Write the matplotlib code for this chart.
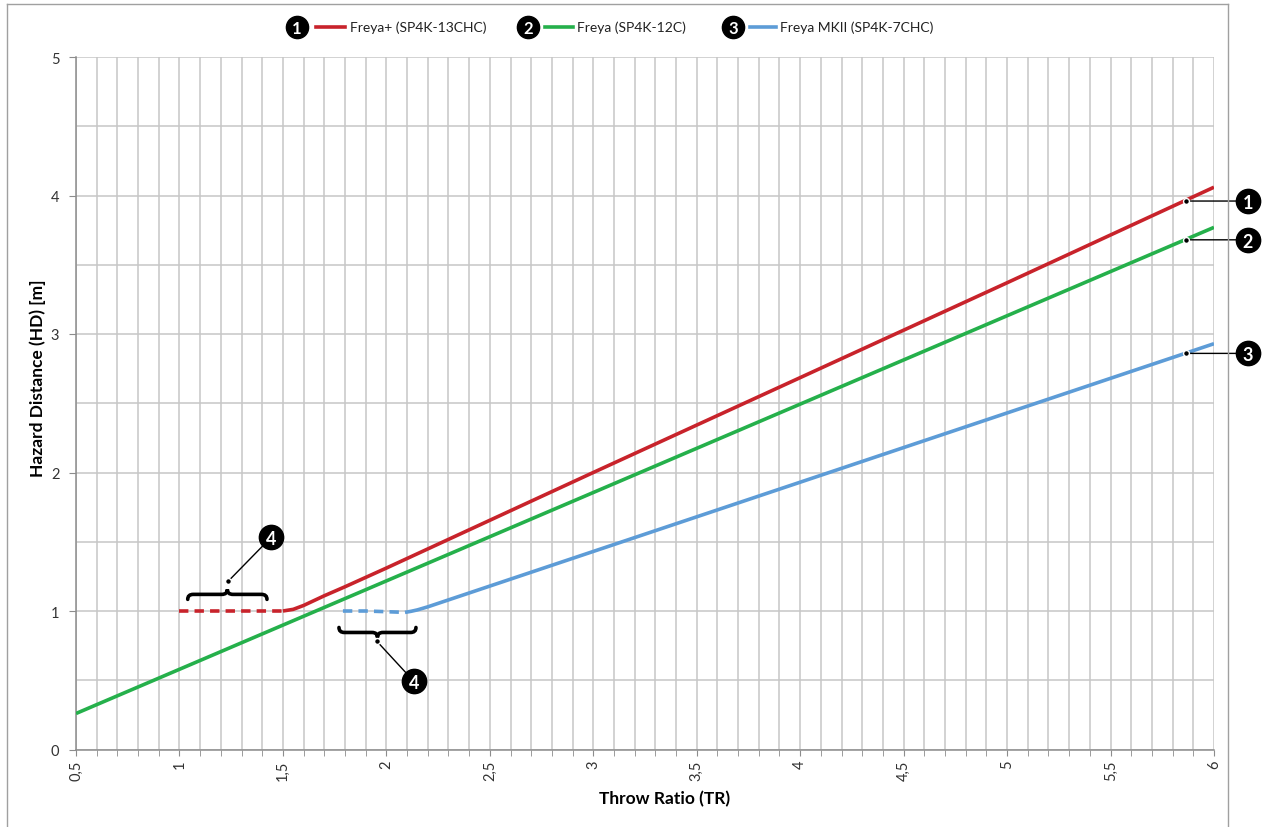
import matplotlib
matplotlib.use('Agg')
import matplotlib.pyplot as plt
import matplotlib.patches as mpatches
import matplotlib.transforms as mtransforms
from matplotlib.lines import Line2D
from matplotlib.path import Path
import numpy as np

plt.rcParams['font.family'] = ['Lato', 'DejaVu Sans']

W, H = 1268, 828

# ── Data ──────────────────────────────────────────────────────────────────────
names  = ['Freya+ (SP4K-13CHC)', 'Freya (SP4K-12C)', 'Freya MKII (SP4K-7CHC)']
colors = ['#C8232B', '#25B04B', '#5D9CD7']

red_dash_x  = [1.0, 1.5]
red_dash_y  = [1.0, 1.0]
red_x = [1.5, 1.55, 1.6, 1.65, 1.7, 1.8, 2.0, 3.0, 4.0, 5.0, 6.0]
red_y = [1.0, 1.012, 1.04, 1.075, 1.11, 1.175, 1.31, 2.0, 2.685, 3.37, 4.06]

green_x = [0.5, 6.0]
green_y = [0.26, 3.77]

blue_dash_x = [1.79, 1.9, 2.0, 2.09]
blue_dash_y = [1.0, 1.0, 0.995, 0.99]
blue_x = [2.09, 2.12, 2.15, 2.2, 2.3, 3.0, 4.0, 5.0, 6.0]
blue_y = [0.99, 0.998, 1.008, 1.03, 1.08, 1.43, 1.93, 2.43, 2.93]

callout_x = 5.865
callout_y = [3.96, 3.68, 2.86]

# braces marking the dashed (flat) parts: x0, x1, end y, bar y, tip y
brace_x0   = [1.04, 1.771]
brace_x1   = [1.423, 2.143]
brace_yend = [1.084, 0.881]
brace_ybar = [1.12, 0.845]
brace_ytip = [1.156, 0.809]
brace_dot_x = [1.235, 1.955]
brace_dot_y = [1.214, 0.78]

x_ticks = [0.5, 1, 1.5, 2, 2.5, 3, 3.5, 4, 4.5, 5, 5.5, 6]
x_tick_labels = ['0,5', '1', '1,5', '2', '2,5', '3', '3,5', '4', '4,5', '5', '5,5', '6']
y_ticks = [0, 1, 2, 3, 4, 5]
y_tick_labels = ['0', '1', '2', '3', '4', '5']

# ── Figure ────────────────────────────────────────────────────────────────────
fig = plt.figure(figsize=(W / 100, H / 100), dpi=100)
ax = fig.add_axes([76 / W, (H - 750.5) / H, (1214 - 76) / W, (750.5 - 58) / H])

LW = 2.6
ax.plot(red_dash_x, red_dash_y, color=colors[0], lw=LW, dashes=(2.6, 1.7), zorder=3)
ax.plot(red_x, red_y, color=colors[0], lw=LW, zorder=3, solid_capstyle='butt')
ax.plot(green_x, green_y, color=colors[1], lw=LW, zorder=3, solid_capstyle='butt')
ax.plot(blue_dash_x, blue_dash_y, color=colors[2], lw=LW, dashes=(2.6, 1.7), zorder=3)
ax.plot(blue_x, blue_y, color=colors[2], lw=LW, zorder=3, solid_capstyle='butt')

ax.set_xlim(0.5, 6)
ax.set_ylim(0, 5)
ax.set_xticks(x_ticks, x_tick_labels, rotation=90)
ax.set_xticks(np.arange(0.5, 6.001, 0.1), minor=True)
ax.set_yticks(y_ticks, y_tick_labels)
ax.set_yticks(np.arange(0.5, 5, 1.0), minor=True)

GRID = '#c6c6c6'
ax.grid(True, which='both', color=GRID, lw=1.1, zorder=0)
ax.set_axisbelow(True)
for s in ['top', 'right']:
    ax.spines[s].set_visible(False)
for s in ['left', 'bottom']:
    ax.spines[s].set_color('#8c8c8c')
    ax.spines[s].set_linewidth(1.1)

ax.tick_params(axis='x', which='both', direction='out', length=4, color='#8c8c8c',
               labelsize=10.5, labelcolor='#333333', pad=3)
ax.tick_params(axis='y', which='major', direction='out', length=5, color='#8c8c8c',
               labelsize=10.5, labelcolor='#333333', pad=7)
ax.tick_params(axis='y', which='minor', length=0)

fig.text(665 / W, 1 - 799 / H, 'Throw Ratio (TR)', ha='center', va='center',
         fontsize=12.5, fontweight='bold')
fig.text(38 / W, 1 - 378 / H, 'Hazard Distance (HD) [m]', ha='center', va='center',
         rotation=90, fontsize=12.5, fontweight='bold')

# ── Numbered call-outs ────────────────────────────────────────────────────────
def callout(xy, offset, label, fs=13, ms=17.5):
    ax.annotate('', xy=xy, xytext=offset, textcoords='offset points',
                annotation_clip=False, zorder=5,
                arrowprops=dict(arrowstyle='-', color='black', lw=1,
                                shrinkA=0, shrinkB=0))
    ax.plot(*xy, 'o', ms=4.2, color='black', mec='white', mew=1.0, zorder=6)
    tr = mtransforms.offset_copy(ax.transData, fig=fig, x=offset[0], y=offset[1],
                                 units='points')
    ax.plot(*xy, 'o', ms=ms, color='black', transform=tr, clip_on=False, zorder=7)
    ax.text(*xy, label, transform=tr, ha='center', va='center_baseline',
            color='white', fontsize=fs, fontweight='bold', zorder=8, clip_on=False)

for i, y in enumerate(callout_y):
    callout((callout_x, y), (44.6, 0), str(i + 1))

# braces
for x0, x1, ye, yb, yt in zip(brace_x0, brace_x1, brace_yend, brace_ybar, brace_ytip):
    xm = (x0 + x1) / 2
    q = (x1 - x0) * 0.07
    verts = [(x0, ye), (x0, yb), (x0 + q, yb),
             (xm - q, yb), (xm, yb), (xm, yt),
             (xm, yb), (xm + q, yb),
             (x1 - q, yb), (x1, yb), (x1, ye)]
    codes = [Path.MOVETO, Path.CURVE3, Path.CURVE3,
             Path.LINETO, Path.CURVE3, Path.CURVE3,
             Path.CURVE3, Path.CURVE3,
             Path.LINETO, Path.CURVE3, Path.CURVE3]
    ax.add_patch(mpatches.PathPatch(Path(verts, codes), fc='none', ec='black',
                                    lw=2.6, zorder=5, capstyle='round'))

callout((brace_dot_x[0], brace_dot_y[0]), (31, 31.7), '4')
callout((brace_dot_x[1], brace_dot_y[1]), (26.6, -28.8), '4')

# ── Legend (drawn by hand, top centre) ────────────────────────────────────────
leg_circle_x = [297, 528, 733]
leg_line_x0  = [316, 545, 750]
leg_line_x1  = [345, 573, 776]
leg_text_x   = [350, 577, 780]
leg_y = 1 - 28 / H
for i in range(3):
    fig.add_artist(Line2D([leg_circle_x[i] / W], [leg_y], marker='o', ms=16,
                          color='black', transform=fig.transFigure))
    fig.text(leg_circle_x[i] / W, leg_y, str(i + 1), ha='center', va='center_baseline',
             color='white', fontsize=12, fontweight='bold')
    fig.add_artist(Line2D([leg_line_x0[i] / W, leg_line_x1[i] / W], [leg_y, leg_y],
                          transform=fig.transFigure, color=colors[i], lw=2.6))
    fig.text(leg_text_x[i] / W, leg_y, names[i], ha='left', va='center',
             fontsize=10, color='#222222')

# outer chart frame
fc = '#a0a0a0'
fig.add_artist(Line2D([7 / W, 7 / W], [0, 1 - 5 / H], transform=fig.transFigure, color=fc, lw=1))
fig.add_artist(Line2D([1228 / W, 1228 / W], [0, 1 - 5 / H], transform=fig.transFigure, color=fc, lw=1))
fig.add_artist(Line2D([7 / W, 1228 / W], [1 - 5 / H, 1 - 5 / H], transform=fig.transFigure, color=fc, lw=1))

fig.savefig('out.png', dpi=100, facecolor='white')
